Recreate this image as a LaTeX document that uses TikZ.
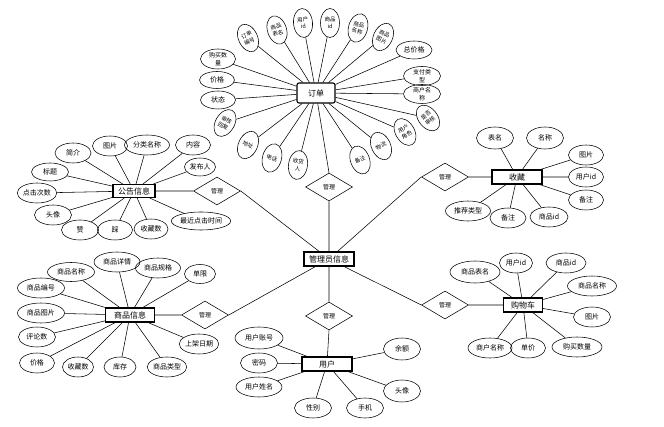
\documentclass[tikz,border=0pt]{standalone}
\usepackage{fontspec}
\setmainfont{Noto Sans CJK SC}
\usetikzlibrary{shapes.geometric}
\tikzstyle{attr}=[draw,ellipse,inner sep=0pt,minimum width=37pt,minimum height=20pt,font=\fontsize{7}{8}\selectfont,align=center]
\tikzstyle{tattr}=[draw,ellipse,inner sep=0pt,minimum width=19pt,minimum height=29pt,font=\fontsize{5.5}{6.9}\selectfont,align=center]
\tikzstyle{ent}=[draw,rectangle,line width=1.1pt,minimum width=50pt,minimum height=14pt,inner sep=0pt,font=\fontsize{8}{9}\selectfont]
\tikzstyle{rel}=[draw,diamond,minimum width=47pt,minimum height=28pt,inner sep=0pt,font=\fontsize{6}{7}\selectfont]

\begin{document}
\begin{tikzpicture}[x=1pt,y=-1pt,line width=0.55pt]
\useasboundingbox (0,0) rectangle (664,427);

\node[ent,rounded corners=2pt,minimum width=38pt,minimum height=20pt] (ord) at (316,93) {订单};
\node[tattr,rotate=25] (o1) at (248,38) {订单\\编号};
\node[tattr,rotate=18] (o2) at (277,30) {商品\\表名};
\node[tattr,rotate=5] (o3) at (303,23) {用户\\id};
\node[tattr] (o4) at (330,23) {商品\\id};
\node[tattr,rotate=-15] (o5) at (358,28) {商品\\名称};
\node[tattr,rotate=-25] (o6) at (383,37) {商品\\图片};
\node[attr,minimum width=36pt,minimum height=18pt] (o7) at (414,50) {总价格};
\node[attr,minimum height=19pt,font=\fontsize{6}{7.6}\selectfont] (o8) at (422,76) {支付类\\型};
\node[attr,minimum height=19pt,font=\fontsize{6}{7.6}\selectfont] (o9) at (422,94) {商户名\\称};
\node[tattr,rotate=38] (o10) at (428,118) {是否\\审核};
\node[tattr,rotate=30] (o11) at (405,132) {用户\\角色};
\node[tattr,rotate=25] (o12) at (381,146) {物流};
\node[tattr,rotate=20] (o13) at (360,160) {备注};
\node[tattr,rotate=-8] (o14) at (298,165) {收货\\人};
\node[tattr,rotate=-15] (o15) at (272,158) {电话};
\node[tattr,rotate=-25] (o16) at (248,145) {地址};
\node[tattr,rotate=-30] (o17) at (225,123) {审核\\回复};
\node[attr,minimum width=35pt,minimum height=18pt] (o18) at (218,100) {状态};
\node[attr,minimum width=35pt,minimum height=17pt] (o19) at (217,80) {价格};
\node[attr,minimum width=35pt,font=\fontsize{6}{7.6}\selectfont] (o20) at (218,59) {购买数\\量};

\node[rel] (d1) at (329,187) {管理};
\node[ent] (adm) at (329,259) {管理员信息};

\node[ent,minimum width=42pt,minimum height=13pt] (ann) at (134,191) {公告信息};
\node[attr,minimum width=36pt] (a1) at (73,153) {简介};
\node[attr,minimum width=35pt] (a2) at (110,146) {图片};
\node[attr,minimum width=45pt] (a3) at (147,145) {分类名称};
\node[attr,minimum width=35pt] (a4) at (193,145) {内容};
\node[attr,minimum width=31pt,minimum height=18pt] (a5) at (200,167) {发布人};
\node[attr,minimum height=18pt] (a6) at (50,172) {标题};
\node[attr] (a7) at (37,193) {点击次数};
\node[attr] (a8) at (53,215) {头像};
\node[attr] (a9) at (80,230) {赞};
\node[attr,minimum width=35pt] (a10) at (115,230) {踩};
\node[attr,minimum width=34pt] (a11) at (151,229) {收藏数};
\node[attr,minimum width=58pt,minimum height=18pt] (a12) at (201,221) {最近点击时间};
\node[rel] (d2) at (217,191) {管理};

\node[ent,minimum width=49pt] (prod) at (130,315) {商品信息};
\node[attr,minimum width=47pt,minimum height=19pt] (p1) at (71,272) {商品名称};
\node[attr,minimum width=46pt] (p2) at (117,262) {商品详情};
\node[attr,minimum width=45pt] (p3) at (158,268) {商品规格};
\node[attr,minimum width=31pt,minimum height=19pt] (p4) at (200,274) {单限};
\node[attr,minimum width=47pt] (p5) at (41,288) {商品编号};
\node[attr,minimum width=47pt] (p6) at (41,313) {商品图片};
\node[attr] (p7) at (37,337) {评论数};
\node[attr,minimum width=35pt] (p8) at (37,363) {价格};
\node[attr,minimum width=31pt] (p9) at (78,367) {收藏数};
\node[attr,minimum width=32pt] (p10) at (120,367) {库存};
\node[attr] (p11) at (167,367) {商品类型};
\node[attr,minimum width=35pt] (p12) at (199,344) {上架日期};
\node[rel] (d3) at (205,315) {管理};

\node[ent] (fav) at (517,177) {收藏};
\node[attr,minimum height=22pt] (f1) at (495,138) {表名};
\node[attr,minimum height=22pt] (f2) at (545,138) {名称};
\node[attr,minimum width=35pt] (f3) at (586,155) {图片};
\node[attr,minimum width=35pt] (f4) at (586,177) {用户id};
\node[attr,minimum width=35pt] (f5) at (586,200) {备注};
\node[attr,minimum width=45pt] (f6) at (468,211) {推荐类型};
\node[attr,minimum width=36pt] (f7) at (508,218) {备注};
\node[attr,minimum width=38pt] (f8) at (549,217) {商品id};
\node[rel] (d4) at (445,177) {管理};

\node[ent,minimum width=39pt] (cart) at (523,305) {购物车};
\node[attr,minimum width=50pt,minimum height=22pt] (c1) at (475,272) {商品表名};
\node[attr,minimum width=33pt] (c2) at (516,263) {用户id};
\node[attr,minimum width=40pt] (c3) at (566,263) {商品id};
\node[attr,minimum width=49pt] (c4) at (592,286) {商品名称};
\node[attr] (c5) at (592,317) {图片};
\node[attr,minimum width=44pt] (c6) at (490,348) {商户名称};
\node[attr,minimum width=35pt] (c7) at (528,348) {单价};
\node[attr,minimum width=50pt] (c8) at (577,347) {购买数量};
\node[rel] (d5) at (445,305) {管理};

\node[rel] (d6) at (329,316) {管理};
\node[ent] (usr) at (327,364) {用户};
\node[attr,minimum width=48pt,minimum height=22pt] (u1) at (259,338) {用户账号};
\node[attr] (u2) at (259,363) {密码};
\node[attr,minimum width=46pt] (u3) at (259,387) {用户姓名};
\node[attr] (u4) at (313,408) {性别};
\node[attr] (u5) at (365,408) {手机};
\node[attr,minimum height=22pt] (u6) at (402,349) {余额};
\node[attr,minimum height=22pt] (u7) at (402,391) {头像};

\draw (ord) -- (o1) (ord) -- (o2) (ord) -- (o3) (ord) -- (o4) (ord) -- (o5);
\draw (ord) -- (o6) (ord) -- (o7) (ord) -- (o8) (ord) -- (o9) (ord) -- (o10);
\draw (ord) -- (o11) (ord) -- (o12) (ord) -- (o13) (ord) -- (o14) (ord) -- (o15);
\draw (ord) -- (o16) (ord) -- (o17) (ord) -- (o18) (ord) -- (o19) (ord) -- (o20);
\draw (ord) -- (d1.north) (d1.south) -- (adm);

\draw (ann) -- (a1) (ann) -- (a2) (ann) -- (a3) (ann) -- (a4) (ann) -- (a5) (ann) -- (a6);
\draw (ann) -- (a7) (ann) -- (a8) (ann) -- (a9) (ann) -- (a10) (ann) -- (a11) (ann) -- (a12);
\draw (ann) -- (d2.west) (d2.east) -- (adm);

\draw (prod) -- (p1) (prod) -- (p2) (prod) -- (p3) (prod) -- (p4) (prod) -- (p5) (prod) -- (p6);
\draw (prod) -- (p7) (prod) -- (p8) (prod) -- (p9) (prod) -- (p10) (prod) -- (p11) (prod) -- (p12);
\draw (prod) -- (d3.west) (d3.east) -- (adm);

\draw (fav) -- (f1) (fav) -- (f2) (fav) -- (f3) (fav) -- (f4);
\draw (fav) -- (f5) (fav) -- (f6) (fav) -- (f7) (fav) -- (f8);
\draw (fav) -- (d4.east) (d4.west) -- (adm);

\draw (cart) -- (c1) (cart) -- (c2) (cart) -- (c3) (cart) -- (c4);
\draw (cart) -- (c5) (cart) -- (c6) (cart) -- (c7) (cart) -- (c8);
\draw (cart) -- (d5.east) (d5.west) -- (adm);

\draw (adm) -- (d6.north) (d6.south) -- (usr);
\draw (usr) -- (u1) (usr) -- (u2) (usr) -- (u3) (usr) -- (u4);
\draw (usr) -- (u5) (usr) -- (u6) (usr) -- (u7);

\end{tikzpicture}
\end{document}
